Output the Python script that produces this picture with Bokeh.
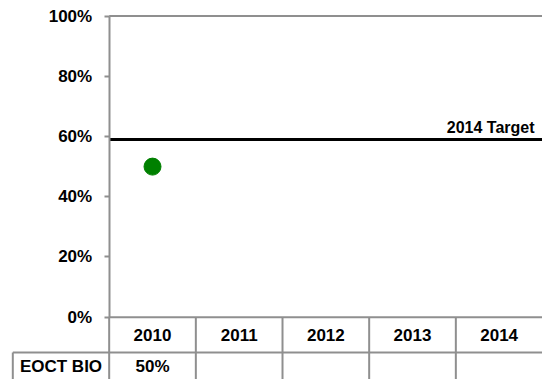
from bokeh.plotting import figure
from bokeh.models import Range1d, LinearAxis, FixedTicker, NumeralTickFormatter
from bokeh.core.properties import value
from bokeh.embed import file_html
from bokeh.resources import INLINE

# ---- data ----
years = ["2010", "2011", "2012", "2013", "2014"]
series_name = "EOCT BIO"
eoct_bio = [0.50, None, None, None, None]
target_value = 0.59
target_label = "2014 Target"
y_ticks = [0.0, 0.2, 0.4, 0.6, 0.8, 1.0]

# ---- layout constants ----
FONT = "Liberation Sans"
FS = "17px"
GRAY = "#8f8f8f"
n = len(years)
x_left = -1.254          # figure left edge in data units
label_col_left = -1.112  # left edge of the series-name cell
row1_bottom = -0.1172
y_bottom = -0.2068
y_top = 1.0515

p = figure(width=542, height=379, output_backend="svg", toolbar_location=None,
           x_range=Range1d(x_left, n), y_range=Range1d(y_bottom, y_top),
           x_axis_location=None, y_axis_location=None,
           min_border=0, min_border_left=0, min_border_right=0,
           min_border_top=0, min_border_bottom=0)
p.outline_line_color = None
p.xgrid.visible = False
p.ygrid.visible = False
p.background_fill_color = "white"
p.border_fill_color = "white"

yaxis = LinearAxis(fixed_location=0, bounds=(0, 1),
                   ticker=FixedTicker(ticks=y_ticks),
                   formatter=NumeralTickFormatter(format="0%"))
yaxis.axis_line_color = GRAY
yaxis.axis_line_width = 2
yaxis.major_tick_line_color = GRAY
yaxis.major_tick_line_width = 2
yaxis.major_tick_out = 5
yaxis.major_tick_in = 0
yaxis.minor_tick_line_color = None
yaxis.major_label_standoff = 12
yaxis.major_label_text_font = FONT
yaxis.major_label_text_font_style = "bold"
yaxis.major_label_text_font_size = FS
yaxis.major_label_text_color = "black"
p.add_layout(yaxis, "left")

# top border at 100%
p.segment(x0=[0], y0=[y_ticks[-1]], x1=[n], y1=[y_ticks[-1]], line_color=GRAY, line_width=2)

# table lines
hx0 = [0, label_col_left]
hy = [0, row1_bottom]
hx1 = [n, n]
p.segment(x0=hx0, y0=hy, x1=hx1, y1=hy, line_color=GRAY, line_width=2)
vx = list(range(n))
p.segment(x0=vx, y0=[0] * n, x1=vx, y1=[y_bottom] * n, line_color=GRAY, line_width=2)
p.segment(x0=[label_col_left], y0=[row1_bottom], x1=[label_col_left], y1=[y_bottom],
          line_color=GRAY, line_width=2)

# target line
p.segment(x0=[0], y0=[target_value], x1=[n], y1=[target_value], line_color="black", line_width=3)
p.text(x=[n], y=[target_value], text=[target_label], text_align="right",
       text_baseline="bottom", x_offset=-8, y_offset=-4,
       text_font=value(FONT), text_font_style="bold", text_font_size="16px", text_color="black")

# data points
xs = [i + 0.5 for i, v in enumerate(eoct_bio) if v is not None]
ys = [v for v in eoct_bio if v is not None]
p.scatter(x=xs, y=ys, size=17, color="#008000")

# table texts
row1_mid = row1_bottom / 2
row2_mid = -0.1637
p.text(x=[i + 0.5 for i in range(n)], y=[row1_mid] * n, text=years,
       text_align="center", text_baseline="middle",
       text_font=value(FONT), text_font_style="bold", text_font_size=FS, text_color="black")
vals_txt = ["" if v is None else f"{round(v * 100)}%" for v in eoct_bio]
p.text(x=[i + 0.5 for i in range(n)], y=[row2_mid] * n, text=vals_txt,
       text_align="center", text_baseline="middle",
       text_font=value(FONT), text_font_style="bold", text_font_size=FS, text_color="black")
p.text(x=[label_col_left / 2], y=[row2_mid], text=[series_name],
       text_align="center", text_baseline="middle",
       text_font=value(FONT), text_font_style="bold", text_font_size=FS, text_color="black")

open("out.html", "w").write(file_html(p, INLINE))
